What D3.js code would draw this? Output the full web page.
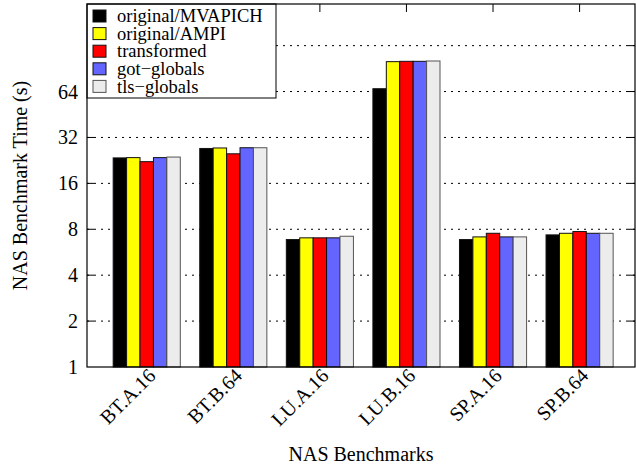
<!DOCTYPE html>
<html>
<head>
<meta charset="utf-8">
<script src="https://cdn.jsdelivr.net/npm/d3@7"></script>
<style>
  body { margin: 0; background: #fff; }
</style>
</head>
<body>
<svg width="636" height="467" font-family="'Liberation Serif', 'Times New Roman', Times, 'DejaVu Serif', serif"></svg>
<script>
const benchmarks = ["BT.A.16", "BT.B.64", "LU.A.16", "LU.B.16", "SP.A.16", "SP.B.64"];
const seriesNames = ["original/MVAPICH", "original/AMPI", "transformed", "got-globals", "tls-globals"];
const seriesColors = ["#000000", "#ffff00", "#ff0000", "#6464ff", "#ececec"];

// one array per series, values in seconds, same order as benchmarks
const mvapich     = [23.5, 27.1, 6.85, 66.8, 6.85, 7.35];
const ampi        = [23.6, 27.3, 7.03, 100.5, 7.13, 7.53];
const transformed = [22.2, 25.0, 7.03, 101, 7.53, 7.73];
const gotGlobals  = [23.6, 27.4, 7.03, 101, 7.13, 7.53];
const tlsGlobals  = [23.8, 27.4, 7.2, 101.5, 7.13, 7.53];
const series = [mvapich, ampi, transformed, gotGlobals, tlsGlobals];

const yTicks = [1, 2, 4, 8, 16, 32, 64];
const yGrid  = [2, 4, 8, 16, 32, 64, 128];

const svg = d3.select("svg");
const mLeft = 87, mRight = 635, mTop = 4, mBottom = 367;
const fontSize = 20;

const x = d3.scaleLinear().domain([-0.69, 5.64]).range([mLeft, mRight]);
const y = d3.scaleLog().base(2).domain([1, 240]).range([mBottom, mTop]);
const unit = x(1) - x(0);
const barW = unit / 6.45;

// grid
svg.append("g").selectAll("line").data(yGrid).join("line")
  .attr("x1", mLeft).attr("x2", mRight)
  .attr("y1", d => y(d)).attr("y2", d => y(d))
  .attr("stroke", "#000").attr("stroke-width", 1)
  .attr("stroke-dasharray", "2,5");

// tick marks left and right, top mirror tics
const tk = svg.append("g");
tk.selectAll(".tl").data(yGrid).join("line").attr("class", "tl")
  .attr("x1", mLeft).attr("x2", mLeft + 7)
  .attr("y1", d => y(d)).attr("y2", d => y(d))
  .attr("stroke", "#000");
tk.selectAll(".tr").data(yGrid).join("line").attr("class", "tr")
  .attr("x1", mRight - 7).attr("x2", mRight)
  .attr("y1", d => y(d)).attr("y2", d => y(d))
  .attr("stroke", "#000");
tk.selectAll(".tt").data(benchmarks).join("line").attr("class", "tt")
  .attr("x1", (d, i) => x(i)).attr("x2", (d, i) => x(i))
  .attr("y1", mTop).attr("y2", mTop + 8)
  .attr("stroke", "#000");

// bars
series.forEach((vals, s) => {
  svg.append("g").selectAll("rect").data(vals).join("rect")
    .attr("x", (d, i) => x(i) + (s - 2.5) * barW)
    .attr("width", barW)
    .attr("y", d => y(d))
    .attr("height", d => mBottom - y(d))
    .attr("fill", seriesColors[s])
    .attr("stroke", s === 4 ? "#555" : "#111")
    .attr("stroke-width", 1);
});

// y labels
svg.append("g").selectAll("text").data(yTicks).join("text")
  .attr("x", mLeft - 9).attr("y", d => y(d))
  .attr("dy", "0.35em")
  .attr("text-anchor", "end")
  .attr("font-size", fontSize)
  .text(d => d);

// x labels
svg.append("g").selectAll("text").data(benchmarks).join("text")
  .attr("text-anchor", "end")
  .attr("font-size", fontSize)
  .attr("transform", (d, i) => `translate(${x(i) + 10},${mBottom + 10}) rotate(-45)`)
  .text(d => d);

// legend
const lg = svg.append("g");
lg.append("rect")
  .attr("x", mLeft).attr("y", mTop).attr("width", 189).attr("height", 94)
  .attr("fill", "#fff").attr("stroke", "#000");
seriesNames.forEach((name, s) => {
  const cy = 16 + s * 17.6;
  lg.append("rect")
    .attr("x", 93).attr("y", cy - 6).attr("width", 13).attr("height", 12)
    .attr("fill", seriesColors[s]).attr("stroke", s === 4 ? "#555" : "#111");
  lg.append("text")
    .attr("x", 117).attr("y", cy).attr("dy", "0.33em")
    .attr("font-size", 18.5)
    .text(name.replace("-", "\u2212"));
});

// frame
svg.append("rect")
  .attr("x", mLeft).attr("y", mTop).attr("width", mRight - mLeft).attr("height", mBottom - mTop)
  .attr("fill", "none").attr("stroke", "#000").attr("stroke-width", 1.2);

// axis titles
svg.append("text")
  .attr("x", (mLeft + mRight) / 2).attr("y", 461)
  .attr("text-anchor", "middle").attr("font-size", fontSize)
  .text("NAS Benchmarks");
svg.append("text")
  .attr("transform", `translate(27,${(mTop + mBottom) / 2}) rotate(-90)`)
  .attr("text-anchor", "middle").attr("font-size", fontSize)
  .text("NAS Benchmark Time (s)");
</script>
</body>
</html>
